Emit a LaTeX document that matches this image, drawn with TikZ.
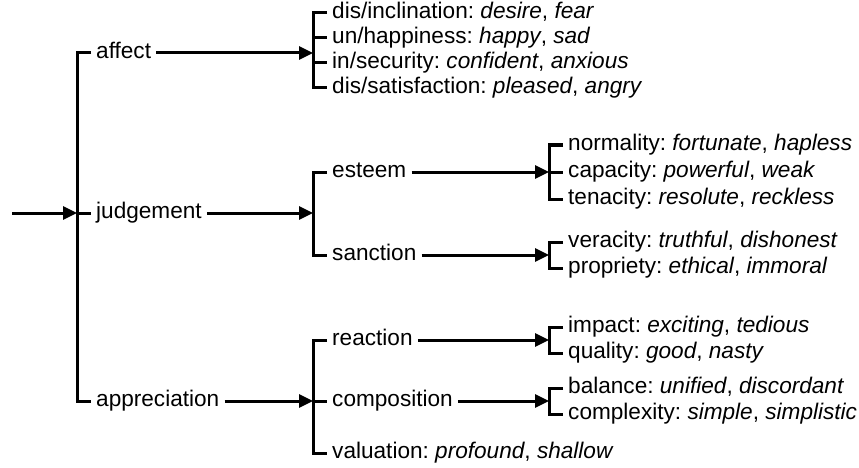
\documentclass[tikz,border=0pt]{standalone}
\usepackage{fontspec}
\setmainfont{Liberation Sans}
\frenchspacing
\usetikzlibrary{arrows.meta}

\begin{document}
\begin{tikzpicture}[x=1pt,y=-1pt,
  lbl/.style={anchor=west,inner xsep=5pt,inner ysep=0pt,text height=11.5pt,text depth=0pt,font=\fontsize{22.6}{26}\selectfont},
  brk/.style={line width=3pt},
  feed/.style={line width=3pt,-{Triangle[length=14pt,width=13pt]}}]
\useasboundingbox (0,0) rectangle (859,468);

\coordinate (in) at (12,213);
\coordinate (b0) at (77,213);
\coordinate (b1) at (313,53);
\coordinate (b2) at (313,213);
\coordinate (b3) at (313,401);
\coordinate (b4) at (549,172);
\coordinate (b5) at (549,255);
\coordinate (b6) at (549,340);
\coordinate (b7) at (549,401);

\begin{scope}[every node/.style={lbl}]
\node (affect) at (91,53) {affect};
\node (judgement) at (91,213) {judgement};
\node (appreciation) at (91,401) {appreciation};

\node (incl) at (327,13) {dis/inclination: \textit{desire}, \textit{fear}};
\node (happy) at (327,38) {un/happiness: \textit{happy}, \textit{sad}};
\node (secur) at (327,63) {in/security: \textit{confident}, \textit{anxious}};
\node (satis) at (327,88) {dis/satisfaction: \textit{pleased}, \textit{angry}};

\node (esteem) at (327,172) {esteem};
\node (sanction) at (327,255) {sanction};
\node (reaction) at (327,340) {reaction};
\node (composition) at (327,401) {composition};
\node (valuation) at (327,453) {valuation: \textit{profound}, \textit{shallow}};

\node (normality) at (563,145) {normality: \textit{fortunate}, \textit{hapless}};
\node (capacity) at (563,172) {capacity: \textit{powerful}, \textit{weak}};
\node (tenacity) at (563,199) {tenacity: \textit{resolute}, \textit{reckless}};
\node (veracity) at (563,242) {veracity: \textit{truthful}, \textit{dishonest}};
\node (propriety) at (563,268) {propriety: \textit{ethical}, \textit{immoral}};
\node (impact) at (563,327) {impact: \textit{exciting}, \textit{tedious}};
\node (quality) at (563,353) {quality: \textit{good}, \textit{nasty}};
\node (balance) at (563,388) {balance: \textit{unified}, \textit{discordant}};
\node (complexity) at (563,414) {complexity: \textit{simple}, \textit{simplistic}};
\end{scope}

\draw[feed] (in) -- (b0);
\draw[brk] (affect.west) -| (b0) |- (appreciation.west);
\draw[brk] (b0) -- (judgement.west);

\draw[feed] (affect.east) -- (b1);
\draw[feed] (judgement.east) -- (b2);
\draw[feed] (appreciation.east) -- (b3);

\draw[brk] (incl.west) -| (b1) |- (satis.west);
\draw[brk] (happy.west -| b1) -- (happy.west);
\draw[brk] (secur.west -| b1) -- (secur.west);

\draw[brk] (esteem.west) -| (b2) |- (sanction.west);
\draw[brk] (reaction.west) -| (b3) |- (valuation.west);
\draw[brk] (b3) -- (composition.west);

\draw[feed] (esteem.east) -- (b4);
\draw[feed] (sanction.east) -- (b5);
\draw[feed] (reaction.east) -- (b6);
\draw[feed] (composition.east) -- (b7);

\draw[brk] (normality.west) -| (b4) |- (tenacity.west);
\draw[brk] (b4) -- (capacity.west);
\draw[brk] (veracity.west) -| (b5) |- (propriety.west);
\draw[brk] (impact.west) -| (b6) |- (quality.west);
\draw[brk] (balance.west) -| (b7) |- (complexity.west);
\end{tikzpicture}
\end{document}
